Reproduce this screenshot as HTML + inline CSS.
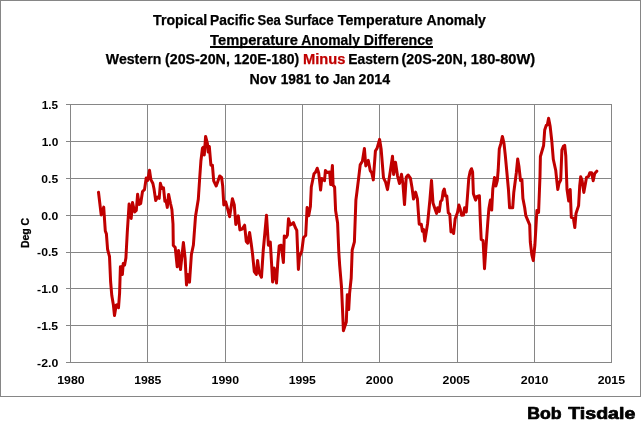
<!DOCTYPE html>
<html lang="en"><head><meta charset="utf-8"><title>Tropical Pacific Sea Surface Temperature Anomaly</title>
<style>
html,body{margin:0;padding:0;background:#fff;}
body{width:641px;height:424px;overflow:hidden;}
svg{display:block;}
text{font-family:"Liberation Sans",sans-serif;font-weight:bold;fill:#000;}
.t{font-size:14px;stroke:#000;stroke-width:0.25px;}
.a{font-size:11.3px;}
.b{font-size:16px;stroke:#000;stroke-width:0.7px;stroke-linejoin:round;}
</style></head><body>
<svg width="641" height="424" viewBox="0 0 641 424">
<rect x="0" y="0" width="641" height="424" fill="#fff"/>
<rect x="0.5" y="0.5" width="640" height="396" fill="none" stroke="#868686" stroke-width="1"/>
<path d="M70.5 104 V363 M147.5 104 V363 M225.5 104 V363 M302.5 104 V363 M379.5 104 V363 M457.5 104 V363 M534.5 104 V363 M611.5 104 V363 M66 104.5 H612 M66 141.5 H612 M66 178.5 H612 M66 215.5 H612 M66 252.5 H612 M66 288.5 H612 M66 325.5 H612 M66 362.5 H612" fill="none" stroke="#868686" stroke-width="1" shape-rendering="crispEdges"/>
<path d="M98.5 192.3 L101.2 214.9 L103.7 207.1 L105.3 231 L106.4 233.9 L107.6 249.5 L109.5 256.5 L110.6 281.5 L111.8 295.6 L113.4 305 L114.5 315.6 L116.2 305 L117.3 304.5 L118.5 307.8 L119.6 293 L120.4 266.7 L121.5 266.7 L122.4 274.5 L123.2 263.5 L124.6 265.1 L125.9 258.1 L127.3 232 L129.1 204 L131.2 218.4 L132.5 202.5 L134.7 212 L136.3 210.5 L137.6 194.3 L139.1 204.4 L140.7 203.5 L142.5 191.5 L144.5 189.6 L146.2 178 L147.7 180.5 L149.5 170.3 L150.9 179.6 L152.9 183.5 L154 188.7 L155.7 200.6 L157.5 197 L159.2 198.3 L160.4 183.3 L161.9 188.5 L163.5 187.8 L164.9 201.3 L166 200.5 L167.3 207.4 L168.6 194.4 L170.5 203.5 L171.9 209.5 L173 224 L173.3 245.5 L175.2 247.3 L177.2 266.8 L178.6 250.4 L180.5 269.5 L183.4 242.5 L185.1 258.2 L186.5 285 L187.7 274.6 L189.5 282.1 L191.4 254.5 L193.4 245 L195.5 216.5 L198.3 199.3 L199.6 179.5 L200.9 161 L202.5 148 L203.5 147 L204.3 155 L205.6 136.4 L207.4 143.4 L208.2 152 L209.3 146.5 L210.9 165.2 L212.4 165.2 L213.7 180.8 L216.2 186 L217.8 181.5 L219.7 176 L221.6 177.5 L222.7 186 L223.8 205 L225.7 201.8 L227.4 208.1 L229.6 216.7 L232.4 198.7 L234.3 205 L235.8 224.5 L238.3 215.9 L239.9 229.9 L242.1 229.1 L244.6 225.2 L246.3 241.5 L247.8 243.2 L249.6 232.5 L251.2 243.5 L252.6 254.5 L254.3 271.7 L256.3 274.5 L257.6 260.5 L259.1 272.5 L261.5 277.2 L263.2 251 L264.5 237 L266.5 215.2 L268.4 245.2 L270.3 242.1 L271.6 264 L272.6 282 L274.2 267.9 L276.5 283.1 L277.8 262.5 L279.2 246 L281.2 245.2 L283.4 262.5 L284.3 235.9 L286.2 237.4 L287.4 235.1 L288.5 218.7 L290.2 225 L291.8 224.2 L293.4 222.6 L295.2 227.3 L296.8 230.4 L298.4 269.5 L299.4 257 L301.8 251 L303.5 237.5 L305.7 235.5 L307.1 207.5 L308.7 215.7 L310.4 206.5 L311.3 187 L314 173.7 L315.6 172.1 L317.2 168.2 L318.7 172.9 L320.6 190.1 L321.8 178.4 L324.5 180.7 L325.4 170.6 L327 172.4 L329.6 172.1 L330.7 184.6 L332.4 165.6 L333.1 185.4 L334.6 187 L335.6 210.5 L337.6 223 L338.8 252 L339.7 265.6 L341.5 287 L342.8 316 L343.4 330.7 L345.2 325.2 L346.3 322 L347.3 294.8 L348.7 309.6 L349.6 293.3 L351.2 278 L352.2 250 L354.4 241.8 L355.9 200 L357 191.5 L358.6 178.5 L360.2 164.8 L362.4 161.2 L364.4 148.4 L365.8 165.9 L368.3 160.4 L370.2 170.6 L371.8 172.9 L373.3 179.9 L375.4 151.1 L377.2 147.9 L379.6 139.4 L381.1 148.7 L383.5 177.8 L385.6 182.2 L387.5 189.6 L390.3 171.2 L392.5 156.2 L393.6 174.4 L395.5 162.2 L397.5 175.8 L399.5 183.5 L401.5 174.2 L402.9 183.5 L404.5 204.6 L406.2 177.3 L408.1 175 L410.4 178.1 L412 187.4 L413.5 199.1 L415.6 192.1 L417.4 199 L419.2 224.2 L421.3 224.2 L422.4 231.2 L423.6 229.5 L424.8 240.9 L427.6 223.4 L429.9 200 L431.5 180.4 L433 203 L434.6 207.7 L436.6 213.4 L437.7 207.7 L439.3 211.4 L440.6 201.5 L442 200 L443.2 191.3 L444.3 189 L445.5 196 L446.8 196 L448.3 212.8 L449.8 214.4 L451 232 L452.5 230.4 L453.6 233.5 L455.2 218.7 L457.5 212.5 L458.9 205 L460.3 209.3 L461.6 215.2 L463.5 215 L464.6 207.8 L466.3 212 L467.6 194.5 L468.8 178 L470.2 171.3 L471.5 168.7 L472.6 172 L473.4 193.7 L475.6 200.1 L477.1 196.4 L479.4 195.8 L480.2 218 L481.2 239.5 L483.1 240.6 L484.5 268.7 L485.7 251 L487.8 222 L488.9 208.5 L490.4 200 L491.7 210.1 L492.8 189 L494.5 177.5 L495.9 185.9 L497.3 180.6 L498.2 170 L499.3 148.9 L500.9 143.4 L502.4 136.4 L504 143.4 L505.2 154.3 L506.8 171.5 L508.4 189 L509.6 207.8 L512.7 207.8 L513.8 192.2 L516.3 173 L517.7 159 L519 166.8 L520.5 180.5 L521.9 179.5 L522.9 198.4 L524.7 207.8 L525.8 215.6 L529.7 224.9 L530.3 242 L531.8 254.6 L533.3 260.6 L534.9 245 L536.9 210.5 L538.6 212.3 L540 176 L540.4 156.5 L543.6 145.5 L544.7 130 L546.2 125.4 L547.3 125 L548.6 118.3 L550.1 126 L551.8 141 L553.3 159.3 L555.7 170.2 L556.8 180.6 L557.8 189.6 L558.9 183.7 L560.7 180 L561.9 149.8 L563.4 146.3 L564.7 145.4 L565.8 156 L567 189.2 L568.7 201 L570.2 189.6 L571.3 217.4 L573.4 218.2 L574.8 227.6 L576 213.5 L578.6 205.6 L579.7 186 L580.7 176.7 L582 180 L583.8 192.4 L585.4 183.7 L586.5 177.4 L588.5 176.5 L589.8 172.8 L591.6 172.8 L593.2 180.7 L594.7 173.5 L596.8 171.2" fill="none" stroke="#c00000" stroke-width="3" stroke-linejoin="round" stroke-linecap="round"/>
<g><text class="t" x="153.04" y="25" textLength="54.16" lengthAdjust="spacingAndGlyphs">Tropical</text> <text class="t" x="210.08" y="25" textLength="44.53" lengthAdjust="spacingAndGlyphs">Pacific</text> <text class="t" x="257.42" y="25" textLength="23.29" lengthAdjust="spacingAndGlyphs">Sea</text> <text class="t" x="284.82" y="25" textLength="48.84" lengthAdjust="spacingAndGlyphs">Surface</text> <text class="t" x="337.84" y="25" textLength="84.94" lengthAdjust="spacingAndGlyphs">Temperature</text> <text class="t" x="426.55" y="25" textLength="59.33" lengthAdjust="spacingAndGlyphs">Anomaly</text></g>
<g><text class="t" x="210.14" y="45" textLength="87.77" lengthAdjust="spacingAndGlyphs">Temperature</text> <text class="t" x="301.35" y="45" textLength="58.52" lengthAdjust="spacingAndGlyphs">Anomaly</text> <text class="t" x="363.85" y="45" textLength="69.13" lengthAdjust="spacingAndGlyphs">Difference</text></g>
<rect x="210" y="46" width="223" height="2" fill="#000"/>
<g><text class="t" x="105.89" y="64" textLength="55.39" lengthAdjust="spacingAndGlyphs">Western</text> <text class="t" x="164.99" y="64" textLength="64.86" lengthAdjust="spacingAndGlyphs">(20S-20N,</text> <text class="t" x="234.02" y="64" textLength="65.17" lengthAdjust="spacingAndGlyphs">120E-180)</text> <text class="t" x="303.02" y="64" textLength="42.38" lengthAdjust="spacingAndGlyphs" style="fill:#c00000;stroke:#c00000">Minus</text> <text class="t" x="348.28" y="64" textLength="50.68" lengthAdjust="spacingAndGlyphs">Eastern</text> <text class="t" x="401.48" y="64" textLength="65.48" lengthAdjust="spacingAndGlyphs">(20S-20N,</text> <text class="t" x="470.88" y="64" textLength="64.35" lengthAdjust="spacingAndGlyphs">180-80W)</text></g>
<g><text class="t" x="249.55" y="84" textLength="26.92" lengthAdjust="spacingAndGlyphs">Nov</text> <text class="t" x="280.64" y="84" textLength="30.55" lengthAdjust="spacingAndGlyphs">1981</text> <text class="t" x="315.32" y="84" textLength="13.75" lengthAdjust="spacingAndGlyphs">to</text> <text class="t" x="333.01" y="84" textLength="22.09" lengthAdjust="spacingAndGlyphs">Jan</text> <text class="t" x="358.61" y="84" textLength="31.47" lengthAdjust="spacingAndGlyphs">2014</text></g>
<g><text class="a" x="41.76" y="109" textLength="16.37" lengthAdjust="spacingAndGlyphs">1.5</text></g>
<g><text class="a" x="41.75" y="146" textLength="16.54" lengthAdjust="spacingAndGlyphs">1.0</text></g>
<g><text class="a" x="41.32" y="183" textLength="16.82" lengthAdjust="spacingAndGlyphs">0.5</text></g>
<g><text class="a" x="41.32" y="220" textLength="16.98" lengthAdjust="spacingAndGlyphs">0.0</text></g>
<g><text class="a" x="37.12" y="256" textLength="21.02" lengthAdjust="spacingAndGlyphs">-0.5</text></g>
<g><text class="a" x="37.12" y="293" textLength="21.18" lengthAdjust="spacingAndGlyphs">-1.0</text></g>
<g><text class="a" x="37.12" y="330" textLength="21.02" lengthAdjust="spacingAndGlyphs">-1.5</text></g>
<g><text class="a" x="37.12" y="367" textLength="21.18" lengthAdjust="spacingAndGlyphs">-2.0</text></g>
<g><text class="a" x="57.22" y="384" textLength="27.38" lengthAdjust="spacingAndGlyphs">1980</text></g>
<g><text class="a" x="134.23" y="384" textLength="27.21" lengthAdjust="spacingAndGlyphs">1985</text></g>
<g><text class="a" x="211.62" y="384" textLength="27.38" lengthAdjust="spacingAndGlyphs">1990</text></g>
<g><text class="a" x="288.73" y="384" textLength="27.21" lengthAdjust="spacingAndGlyphs">1995</text></g>
<g><text class="a" x="365.77" y="384" textLength="27.54" lengthAdjust="spacingAndGlyphs">2000</text></g>
<g><text class="a" x="442.57" y="384" textLength="27.37" lengthAdjust="spacingAndGlyphs">2005</text></g>
<g><text class="a" x="520.87" y="384" textLength="27.54" lengthAdjust="spacingAndGlyphs">2010</text></g>
<g><text class="a" x="597.67" y="384" textLength="27.37" lengthAdjust="spacingAndGlyphs">2015</text></g>
<text class="a" style="stroke:#000;stroke-width:0.3px" transform="translate(29.3 248.1) rotate(-90)" textLength="30.2" lengthAdjust="spacingAndGlyphs">Deg C</text>
<g><text class="b" x="527.22" y="419" textLength="34.3" lengthAdjust="spacingAndGlyphs">Bob</text> <text class="b" x="568.28" y="419" textLength="66.99" lengthAdjust="spacingAndGlyphs">Tisdale</text></g>
</svg></body></html>
